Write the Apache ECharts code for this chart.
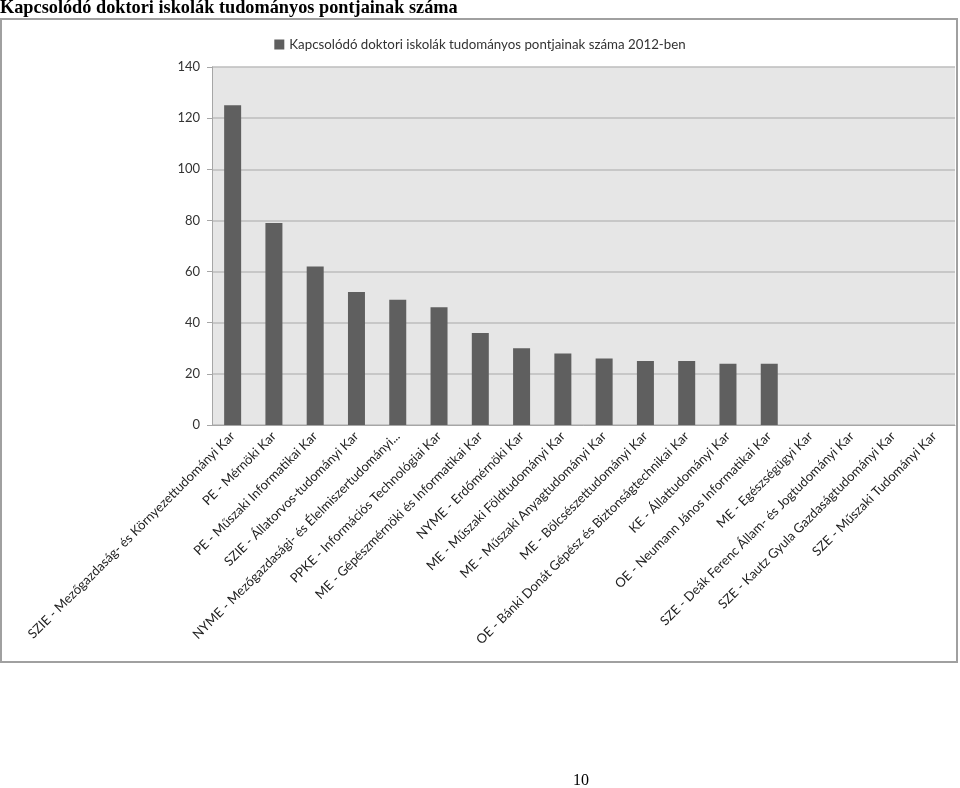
<!DOCTYPE html>
<html>
<head>
<meta charset="utf-8">
<script src="https://cdn.jsdelivr.net/npm/echarts@6/dist/echarts.min.js"></script>
<style>
html,body{margin:0;padding:0;background:#fff;}
#c{width:960px;height:788px;}
</style>
</head>
<body>
<div id="c"></div>
<script>
var categories = [
  "SZIE - Mezőgazdaság- és Környezettudományi Kar",
  "PE - Mérnöki Kar",
  "PE - Műszaki Informatikai Kar",
  "SZIE - Állatorvos-tudományi Kar",
  "NYME - Mezőgazdasági- és Élelmiszertudományi...",
  "PPKE - Információs Technológiai Kar",
  "ME - Gépészmérnöki és Informatikai Kar",
  "NYME - Erdőmérnöki Kar",
  "ME - Műszaki Földtudományi Kar",
  "ME - Műszaki Anyagtudományi Kar",
  "ME - Bölcsészettudományi Kar",
  "OE - Bánki Donát Gépész és Biztonságtechnikai Kar",
  "KE - Állattudományi Kar",
  "OE - Neumann János Informatikai Kar",
  "ME - Egészségügyi Kar",
  "SZE - Deák Ferenc Állam- és Jogtudományi Kar",
  "SZE - Kautz Gyula Gazdaságtudományi Kar",
  "SZE - Műszaki Tudományi Kar"
];
var values = [125, 79, 62, 52, 49, 46, 36, 30, 28, 26, 25, 25, 24, 24, null, null, null, null];
var seriesName = "Kapcsolódó doktori iskolák tudományos pontjainak száma 2012-ben";
var yTicks = {min: 0, max: 140, interval: 20};
var pageTitle = "Kapcsolódó doktori iskolák tudományos pontjainak száma";
var pageNumber = "10";

var chart = echarts.init(document.getElementById('c'));
chart.setOption({
  animation: false,
  backgroundColor: '#fff',
  title: [{
    text: pageTitle,
    left: 0, top: -1,
    textStyle: {fontFamily: 'Liberation Serif', fontWeight: 'bold', fontSize: 18.3, color: '#000'},
    padding: 0
  }, {
    text: pageNumber,
    left: 573, top: 773,
    textStyle: {fontFamily: 'Liberation Serif', fontWeight: 'normal', fontSize: 16, color: '#000'},
    padding: 0
  }],
  graphic: [{
    type: 'rect',
    shape: {x: 1, y: 19, width: 956, height: 643},
    style: {fill: 'none', stroke: '#a0a0a0', lineWidth: 2},
    silent: true
  }],
  legend: {
    data: [seriesName],
    top: 33,
    left: 'center',
    icon: 'rect',
    itemWidth: 10, itemHeight: 10, itemGap: 4,
    textStyle: {fontFamily: 'Lato', fontSize: 13.3, color: '#333'}
  },
  grid: {left: 212, right: 5, top: 67, bottom: 363, containLabel: false,
    show: true, backgroundColor: '#e6e6e6', borderWidth: 0},
  xAxis: {
    type: 'category',
    data: categories,
    axisLine: {show: true, lineStyle: {color: '#a6a6a6', width: 1}},
    axisTick: {show: false},
    axisLabel: {rotate: 45, interval: 0, margin: 9, fontFamily: 'Lato', fontSize: 13, color: '#222'}
  },
  yAxis: {
    type: 'value',
    min: yTicks.min, max: yTicks.max, interval: yTicks.interval,
    axisLine: {show: true, lineStyle: {color: '#a6a6a6'}},
    axisTick: {show: true, length: 5, inside: false, lineStyle: {color: '#a6a6a6'}},
    splitLine: {show: true, lineStyle: {color: '#bdbdbd', width: 1.5}},
    axisLabel: {margin: 12, fontFamily: 'Lato', fontSize: 13, color: '#333'}
  },
  series: [{
    name: seriesName,
    type: 'bar',
    data: values,
    barWidth: 17,
    itemStyle: {color: '#5f5f5f'}
  }]
});
</script>
</body>
</html>
